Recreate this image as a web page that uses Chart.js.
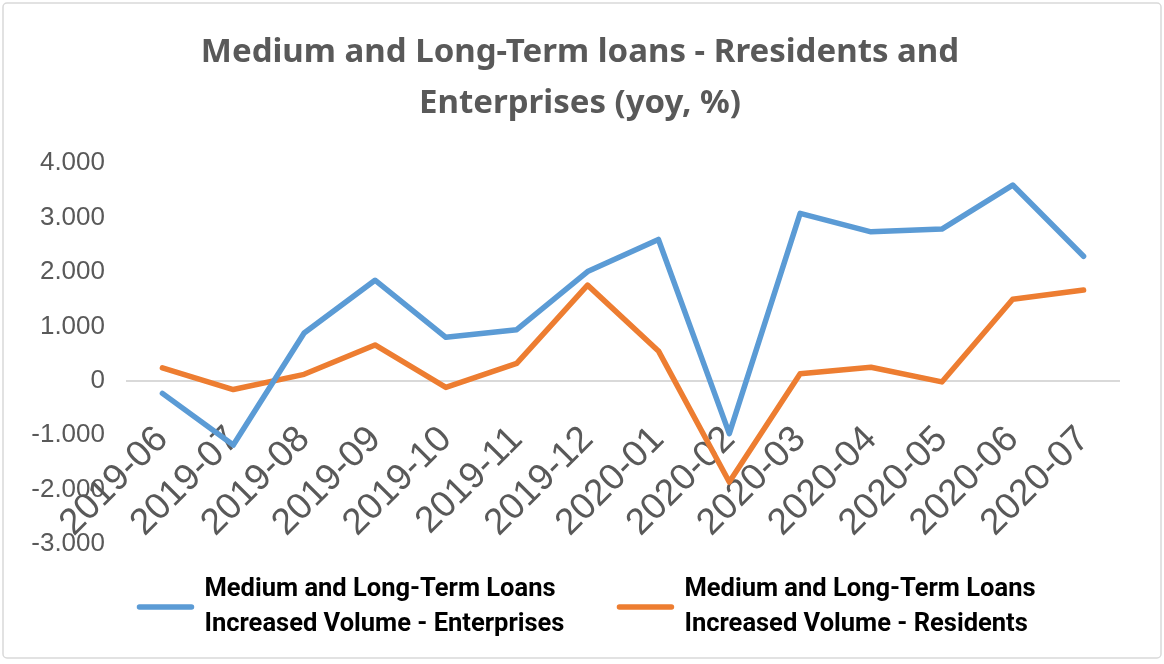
<!DOCTYPE html>
<html><head><meta charset="utf-8">
<script src="https://cdn.jsdelivr.net/npm/chart.js@4.4.0/dist/chart.umd.min.js"></script>
<style>html,body{margin:0;padding:0;background:#fff;} canvas{display:block}</style>
</head><body>
<canvas id="c" width="1164" height="664"></canvas>
<script>
const categories = ['2019-06','2019-07','2019-08','2019-09','2019-10','2019-11','2019-12','2020-01','2020-02','2020-03','2020-04','2020-05','2020-06','2020-07'];
const enterprises = [-230, -1180, 880, 1850, 800, 940, 2010, 2600, -970, 3080, 2740, 2790, 3600, 2290];
const residents = [240, -160, 120, 660, -120, 320, 1760, 550, -1860, 130, 250, -20, 1500, 1670];
const seriesNames = [
  ['Medium and Long-Term Loans', 'Increased Volume - Enterprises'],
  ['Medium and Long-Term Loans', 'Increased Volume - Residents']
];
const titleLines = ['Medium and Long-Term loans - Rresidents and', 'Enterprises (yoy, %)'];
const yMin = -3000, yMax = 4000, yStep = 1000;
const seriesColors = ['#5B9BD5', '#ED7D31'];

function fmt(v) {
  if (v === 0) return '0';
  const s = Math.abs(v).toString().replace(/\B(?=(\d{3})+(?!\d))/g, '.');
  return (v < 0 ? '-' : '') + s;
}

const frame = {
  id: 'frame',
  beforeDraw(chart) {
    const ctx = chart.ctx;
    ctx.save();
    ctx.fillStyle = '#fff';
    ctx.fillRect(0, 0, chart.width, chart.height);
    ctx.strokeStyle = '#d9d9d9';
    ctx.lineWidth = 1.5;
    ctx.beginPath();
    ctx.roundRect(3, 3, chart.width - 6, chart.height - 9, 4);
    ctx.stroke();
    ctx.restore();
  }
};

const customLegend = {
  id: 'customLegend',
  afterDraw(chart) {
    const ctx = chart.ctx;
    ctx.save();
    ctx.font = 'bold 25.5px Roboto, "Liberation Sans", sans-serif';
    const lineLen = 58, gap = 10, itemGap = 52;
    const widths = chart.data.datasets.map((ds, i) => {
      const tw = Math.max(...seriesNames[i].map(t => ctx.measureText(t).width));
      return lineLen + gap + tw;
    });
    const total = widths.reduce((a, b) => a + b, 0) + itemGap * (widths.length - 1);
    let x = (chart.width - total) / 2 + 4;
    const cy = 607, lh = 35;
    chart.data.datasets.forEach((ds, i) => {
      ctx.strokeStyle = ds.borderColor;
      ctx.lineWidth = 5.5;
      ctx.lineCap = 'round';
      ctx.beginPath();
      ctx.moveTo(x + 3, cy);
      ctx.lineTo(x + lineLen - 3, cy);
      ctx.stroke();
      ctx.fillStyle = '#000';
      ctx.textBaseline = 'middle';
      ctx.textAlign = 'left';
      const lines = seriesNames[i];
      lines.forEach((t, j) => {
        ctx.fillText(t, x + lineLen + gap, cy + (j - (lines.length - 1) / 2) * lh);
      });
      x += widths[i] + itemGap;
    });
    ctx.restore();
  }
};

new Chart(document.getElementById('c'), {
  type: 'line',
  data: {
    labels: categories,
    datasets: [
      { label: seriesNames[0].join(' '), data: enterprises, borderColor: seriesColors[0], backgroundColor: seriesColors[0] },
      { label: seriesNames[1].join(' '), data: residents, borderColor: seriesColors[1], backgroundColor: seriesColors[1] }
    ]
  },
  options: {
    responsive: false,
    animation: false,
    events: [],
    elements: {
      line: { borderWidth: 5.5, tension: 0, borderJoinStyle: 'round', borderCapStyle: 'round' },
      point: { radius: 0 }
    },
    layout: { padding: { left: 0, right: 4, top: 0, bottom: 120 } },
    plugins: {
      legend: { display: false },
      tooltip: { enabled: false },
      title: {
        display: true,
        text: titleLines,
        color: '#595959',
        font: { family: '"Noto Sans", "Liberation Sans", sans-serif', size: 33, weight: 'bold', lineHeight: 1.55 },
        padding: { top: 27, bottom: 34 }
      }
    },
    scales: {
      x: {
        type: 'category',
        offset: true,
        position: { y: 0 },
        grid: { display: false, drawTicks: false },
        border: { display: true, color: '#d9d9d9', width: 2 },
        ticks: {
          color: '#595959',
          font: { family: '"Liberation Sans", Arial, sans-serif', size: 37 },
          minRotation: 45, maxRotation: 45,
          autoSkip: false,
          padding: 37
        },
        afterFit(scale) { scale.height = 0; }
      },
      y: {
        min: yMin, max: yMax,
        grid: { display: false, drawTicks: false },
        border: { display: false },
        ticks: {
          stepSize: yStep,
          color: '#595959',
          font: { family: '"Liberation Sans", Arial, sans-serif', size: 26 },
          padding: 22,
          callback: (v) => fmt(v)
        },
        afterFit(scale) { scale.width = 127; }
      },
      spacer: {
        type: 'linear',
        position: 'right',
        display: true,
        grid: { display: false, drawTicks: false },
        border: { display: false },
        ticks: { display: false },
        afterFit(scale) { scale.width = 41; }
      }
    }
  },
  plugins: [frame, customLegend]
});
</script>
</body></html>
